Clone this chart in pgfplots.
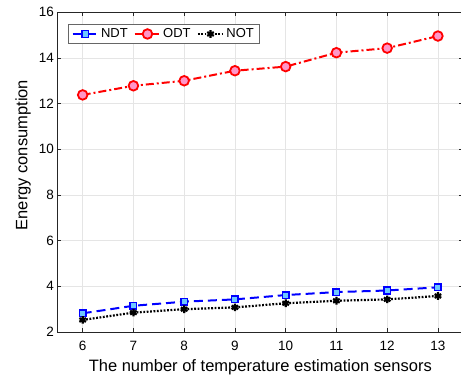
\documentclass[border=0pt]{standalone}
\usepackage{pgfplots}
\pgfplotsset{compat=1.18}
\usepackage{fontspec}
\setmainfont{Liberation Sans}
\definecolor{ndtfill}{RGB}{110,200,255}
\definecolor{odtfill}{RGB}{255,150,200}
\begin{document}
\begin{tikzpicture}
\useasboundingbox (-57.3bp,-43.2bp) rectangle (403.7bp,331.8bp);
\begin{axis}[
  at={(0,0)}, anchor=south west,
  scale only axis,
  width=406bp, height=319.5bp,
  xmin=5.5, xmax=13.5, ymin=2, ymax=16,
  xtick={6,...,13}, ytick={2,4,...,16},
  tick align=inside,
  major tick length=4bp,
  grid=major,
  major grid style={line width=0.5bp, gray!20},
  axis line style={line width=0.6bp, black!85},
  tick style={line width=0.6bp, black!85},
  font=\fontsize{13.5bp}{15bp}\selectfont,
  tick label style={font=\fontsize{13.5bp}{15bp}\selectfont},
  xticklabel style={yshift=-6bp},
  /pgf/number format/assume math mode=true,
  xlabel={The number of temperature estimation sensors},
  ylabel={Energy consumption},
  xlabel style={font=\fontsize{16.5bp}{18bp}\selectfont, anchor=base, at={(0.5,0)}, yshift=-40bp},
  ylabel style={font=\fontsize{16.5bp}{18bp}\selectfont, at={(ticklabel cs:0.553)}, yshift=1bp},
  legend columns=3,
  legend style={at={(rel axis cs:0.027,0.962)}, anchor=north west,
    draw=black!60, line width=0.5bp,
    font=\fontsize{13bp}{14bp}\selectfont,
    inner xsep=3bp, inner ysep=2bp,
    /tikz/every even column/.append style={column sep=4bp}},
  legend image code/.code={
    \draw[mark repeat=2,mark phase=2] plot coordinates {(0cm,0cm) (0.45cm,0cm) (0.9cm,0cm)};},
]
\addplot[blue, dash pattern=on 9bp off 5bp, line width=2bp,
  mark=square*, mark size=3.3bp, mark options={solid, fill=ndtfill, draw=blue, line width=1.5bp}]
  coordinates {(6,2.81) (7,3.14) (8,3.32) (9,3.42) (10,3.61) (11,3.74) (12,3.81) (13,3.95)};
\addlegendentry{NDT}
\addplot[red, dash pattern=on 8bp off 3bp on 2bp off 3bp, line width=2bp,
  mark=*, mark size=4.8bp, mark options={solid, fill=odtfill, draw=red, line width=1.8bp}]
  coordinates {(6,12.38) (7,12.78) (8,13.00) (9,13.44) (10,13.62) (11,14.23) (12,14.43) (13,14.96)};
\addlegendentry{ODT}
\addplot[black, dash pattern=on 1.8bp off 1.6bp, line width=2.2bp,
  mark=asterisk, mark size=3.8bp, mark options={solid, line width=2.2bp}]
  coordinates {(6,2.52) (7,2.84) (8,2.99) (9,3.07) (10,3.25) (11,3.36) (12,3.42) (13,3.57)};
\addlegendentry{NOT}
\end{axis}
\end{tikzpicture}
\end{document}
